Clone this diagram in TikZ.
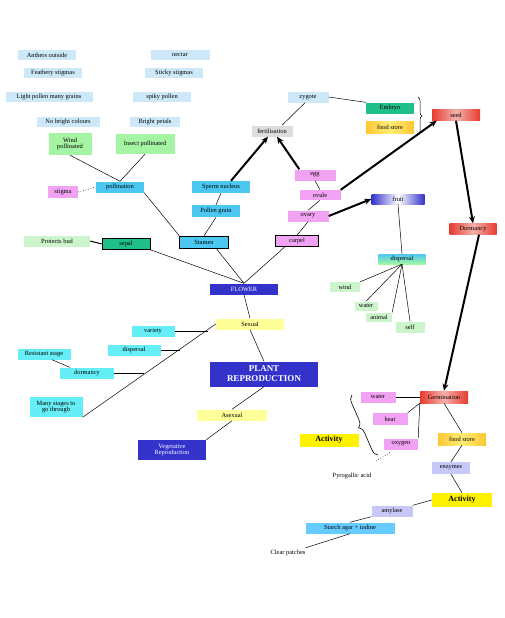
\documentclass[tikz,border=0pt]{standalone}
\usepackage{fontspec}
\setmainfont{Liberation Serif}
\usepackage{tikz}
\usetikzlibrary{arrows.meta}
\usetikzlibrary{decorations.pathreplacing}

\definecolor{paleblue}{HTML}{CDE9F9}
\definecolor{greenbox}{HTML}{A4F4A4}
\definecolor{mintbox}{HTML}{CCF5CC}
\definecolor{pinkbox}{HTML}{F2A2F2}
\definecolor{skybox}{HTML}{4CC7F2}
\definecolor{tealbox}{HTML}{1FBF8C}
\definecolor{navybox}{HTML}{3333CC}
\definecolor{greybox}{HTML}{DDDDDD}
\definecolor{goldbox}{HTML}{FFC733}
\definecolor{redbox}{HTML}{E63C2E}
\definecolor{paleyellow}{HTML}{FFFF99}
\definecolor{cyanbox}{HTML}{66EEF6}
\definecolor{lavbox}{HTML}{C8C8F8}
\definecolor{sky2box}{HTML}{66CCFF}

\begin{document}
\begin{tikzpicture}[x=1pt,y=-1pt]
\useasboundingbox (0,0) rectangle (504,618);
\begin{scope}[every node/.style={rectangle,inner sep=0pt,minimum height=10pt,align=center,
                                 font=\fontsize{6.4}{6.8}\selectfont},
              pale_box/.style={fill=paleblue},
              green_box/.style={fill=greenbox},
              mint_box/.style={fill=mintbox},
              pink_box/.style={fill=pinkbox},
              sky_box/.style={fill=skybox},
              teal_box/.style={fill=tealbox},
              navy_box/.style={fill=navybox,text=white},
              yellow_box/.style={fill=paleyellow},
              cyan_box/.style={fill=cyanbox},
              lav_box/.style={fill=lavbox},
              gold_box/.style={left color=goldbox,right color=goldbox,middle color=goldbox!50!yellow!60},
              red_box/.style={left color=redbox,right color=redbox,middle color=redbox!40},
              act_box/.style={fill=yellow,font=\fontsize{8}{9}\selectfont\bfseries}]
    % adaptations
    \node[pale_box,minimum width=58pt] (anthers) at (47,55) {Anthers outside};
    \node[pale_box,minimum width=59pt] (nectar) at (180,55) {nectar};
    \node[pale_box,minimum width=58pt] (feathery) at (53,73) {Feathery stigmas};
    \node[pale_box,minimum width=58pt] (sticky) at (174,73) {Sticky stigmas};
    \node[pale_box,minimum width=87pt] (light) at (49,97) {Light pollen many grains};
    \node[pale_box,minimum width=58pt] (spiky) at (162,97) {spiky pollen};
    \node[pale_box,minimum width=63pt] (nobright) at (68,122) {No bright colours};
    \node[pale_box,minimum width=50pt] (bright) at (155,122) {Bright petals};
    \node[green_box,minimum width=43pt,minimum height=22pt] (wind_p) at (70,144) {Wind\\pollinated};
    \node[green_box,minimum width=59pt,minimum height=20pt] (insect_p) at (145,144) {Insect pollinated};
    % flower
    \node[pink_box,minimum width=30pt,minimum height=12pt] (stigma) at (63,192) {stigma};
    \node[sky_box,minimum width=48pt,minimum height=11pt] (poll) at (120,187) {pollination};
    \node[sky_box,minimum width=58pt,minimum height=12pt] (sperm) at (221,187) {Sperm nucleus};
    \node[sky_box,minimum width=48pt,minimum height=12pt] (pgrain) at (216,211) {Pollen grain};
    \node[sky_box,draw=black,minimum width=49pt,minimum height=12pt] (stamen) at (204,242) {Stamen};
    \node[mint_box,minimum width=66pt,minimum height=11pt] (protects) at (57,241) {Protects bud};
    \node[teal_box,draw=black,minimum width=48pt,minimum height=11pt] (sepal) at (126,244) {sepal};
    \node[navy_box,minimum width=68pt,minimum height=11pt] (flower) at (244,289) {FLOWER};
    \node[pink_box,draw=black,minimum width=43pt,minimum height=11pt] (carpel) at (297,241) {carpel};
    \node[pink_box,minimum width=41pt,minimum height=11pt] (ovary) at (308,216) {ovary};
    \node[pink_box,minimum width=41pt] (ovule) at (320,195) {ovule};
    \node[pink_box,minimum width=41pt,minimum height=11pt] (egg) at (315,175) {egg};
    \node[fill=greybox,minimum width=41pt,minimum height=11pt] (fert) at (272,131) {fertilisation};
    \node[pale_box,minimum width=41pt,minimum height=11pt] (zygote) at (308,97) {zygote};
    \node[teal_box,minimum width=48pt,minimum height=11pt] (embryo) at (390,108) {Embryo};
    \node[gold_box,minimum width=48pt,minimum height=12pt] (food1) at (390,127) {food store};
    \node[red_box,minimum width=48pt,minimum height=11pt] (seed) at (456,115) {seed};
    \node[left color=navybox,right color=navybox,middle color=white,minimum width=53pt] (fruit) at (398,199) {fruit};
    \node[red_box,minimum width=47pt,minimum height=11pt] (dormancy) at (473,229) {Dormancy};
    \node[top color=skybox,bottom color=mintbox!80!green,minimum width=47pt] (disp2) at (402,259) {dispersal};
    \node[mint_box,minimum width=30pt] (windd) at (345,287) {wind};
    \node[mint_box,minimum width=23pt,minimum height=9pt] (waterd) at (366,306) {water};
    \node[mint_box,minimum width=26pt,minimum height=9pt] (animal) at (379,317) {animal};
    \node[mint_box,minimum width=29pt,minimum height=11pt] (self) at (410,327) {self};
    % reproduction
    \node[yellow_box,minimum width=68pt,minimum height=11pt] (sexual) at (250,324) {Sexual};
    \node[cyan_box,minimum width=43pt,minimum height=11pt] (variety) at (153,331) {variety};
    \node[cyan_box,minimum width=53pt,minimum height=11pt] (disp1) at (134,350) {dispersal};
    \node[cyan_box,minimum width=53pt,minimum height=11pt] (resistant) at (44,354) {Resistant stage};
    \node[cyan_box,minimum width=54pt,minimum height=11pt] (dorm1) at (87,373) {dormancy};
    \node[cyan_box,minimum width=53pt,minimum height=20pt] (many) at (56,407) {Many stages to\\go through};
    \node[navy_box,minimum width=108pt,minimum height=25pt,font=\fontsize{9}{10}\selectfont\bfseries] (plant) at (264,374) {PLANT\\REPRODUCTION};
    \node[yellow_box,minimum width=70pt,minimum height=11pt] (asexual) at (232,415) {Asexual};
    \node[navy_box,minimum width=68pt,minimum height=20pt] (veg) at (172,450) {Vegetative\\Reproduction};
    % germination
    \node[act_box,minimum width=59pt,minimum height=13pt] (act1) at (329,440) {Activity};
    \node[pink_box,minimum width=35pt,minimum height=11pt] (water) at (378,397) {water};
    \node[pink_box,minimum width=35pt,minimum height=12pt] (heat) at (390,419) {heat};
    \node[pink_box,minimum width=34pt,minimum height=11pt] (oxygen) at (401,444) {oxygen};
    \node[red_box,minimum width=48pt,minimum height=12pt] (germ) at (444,397) {Germination};
    \node[gold_box,minimum width=48pt,minimum height=12pt] (food2) at (462,439) {food store};
    \node[lav_box,minimum width=38pt,minimum height=12pt] (enzymes) at (451,468) {enzymes};
    \node[act_box,minimum width=60pt,minimum height=14pt] (act2) at (462,500) {Activity};
    \node[lav_box,minimum width=41pt,minimum height=11pt] (amylase) at (392,511) {amylase};
    \node[fill=sky2box,minimum width=89pt,minimum height=11pt] (starch) at (350,528) {Starch agar + iodine};
    \node (clear) at (288,553) {Clear patches};
    \node (pyro) at (352,476) {Pyrogallic acid};
\end{scope}
\coordinate (j_var) at (208,331);
\coordinate (j_disp) at (180,350);
\coordinate (j_dorm) at (144,373);
\coordinate (pyro_a) at (376,461);
\coordinate (pyro_b) at (391,452);
\begin{scope}[>={Stealth[black,length=7pt,width=6pt]},
              thin_edge/.style={draw=black,line width=0.5pt},
              dot_edge/.style={draw=black,line width=0.6pt,dotted},
              bold_edge/.style={draw=black,line width=1pt},
              thick_edge/.style={draw=black,line width=2pt}]
    \path (wind_p.south) edge [thin_edge] (poll.north);
    \path (insect_p.south) edge [thin_edge] (poll.north);
    \path (stigma.east) edge [dot_edge] (poll.west);
    \path (poll.south east) edge [thin_edge] (stamen.north west);
    \path (sperm.south) edge [thin_edge] (pgrain.north);
    \path (pgrain.south) edge [thin_edge] (stamen.north);
    \path (protects.east) edge [bold_edge] (sepal.west);
    \path (sepal.south east) edge [thin_edge] (flower.north);
    \path ([xshift=12pt]stamen.south) edge [thin_edge] (flower.north);
    \path ([xshift=-12pt]carpel.south) edge [thin_edge] (flower.north);
    \path (flower.south) edge [thin_edge] (sexual.north);
    \path (sexual.south) edge [thin_edge] (plant.north);
    \path (plant.south) edge [thin_edge] (asexual.north);
    \path (asexual.south) edge [thin_edge] (veg.north east);
    \path (sexual.west) edge [thin_edge] (many.south east);
    \path (variety.east) edge [thin_edge] (j_var);
    \path (disp1.east) edge [thin_edge] (j_disp);
    \path (dorm1.east) edge [thin_edge] (j_dorm);
    \path ([xshift=8pt]resistant.south) edge [thin_edge] ([xshift=10pt]dorm1.north west);
    \path (egg.south) edge [thin_edge] (ovule.north);
    \path (ovule.south) edge [thin_edge] (ovary.north);
    \path (ovary.south) edge [thin_edge] (carpel.north);
    \path ([xshift=10pt]fert.north) edge [thin_edge] ([xshift=-3pt]zygote.south);
    \path (zygote.east) edge [thin_edge] (embryo.north west);
    \path (fruit.south) edge [thin_edge] (disp2.north);
    \path (disp2.south) edge [thin_edge] (windd.north east);
    \path (disp2.south) edge [thin_edge] (waterd.north);
    \path (disp2.south) edge [thin_edge] (animal.north east);
    \path (disp2.south) edge [thin_edge] (self.north);
    \path (germ.west) edge [thin_edge] (water.east);
    \path (germ.south west) edge [thin_edge] (heat.north east);
    \path (germ.south west) edge [thin_edge] (oxygen.north east);
    \path (germ.south) edge [thin_edge] (food2.north);
    \path (food2.south) edge [thin_edge] (enzymes.north);
    \path (enzymes.south) edge [thin_edge] (act2.north);
    \path (act2.west) edge [thin_edge] (amylase.north east);
    \path (amylase.south west) edge [thin_edge] (starch.north);
    \path (starch.south) edge [thin_edge] (clear.north east);
    \path (pyro_a) edge [dot_edge] (pyro_b);
    % arrows
    \path [->] ([xshift=10pt]sperm.north) edge [thick_edge] ([xshift=-4pt]fert.south);
    \path [->] ([xshift=5pt]egg.north west) edge [thick_edge] ([xshift=5pt]fert.south);
    \path [->] (ovule.north east) edge [thick_edge] ([xshift=5pt]seed.south west);
    \path [->] (ovary.east) edge [thick_edge] (fruit.west);
    \path [->] (seed.south) edge [thick_edge] (dormancy.north);
    \path [->] ([xshift=6pt]dormancy.south) edge [thick_edge] (germ.north);
\end{scope}
\draw [line width=0.5pt,decorate,decoration={brace,amplitude=4pt}] (418,97) -- (418,135);
\draw [line width=0.6pt,decorate,decoration={brace,amplitude=7pt}] (378,455) -- (352,395);
\end{tikzpicture}
\end{document}
